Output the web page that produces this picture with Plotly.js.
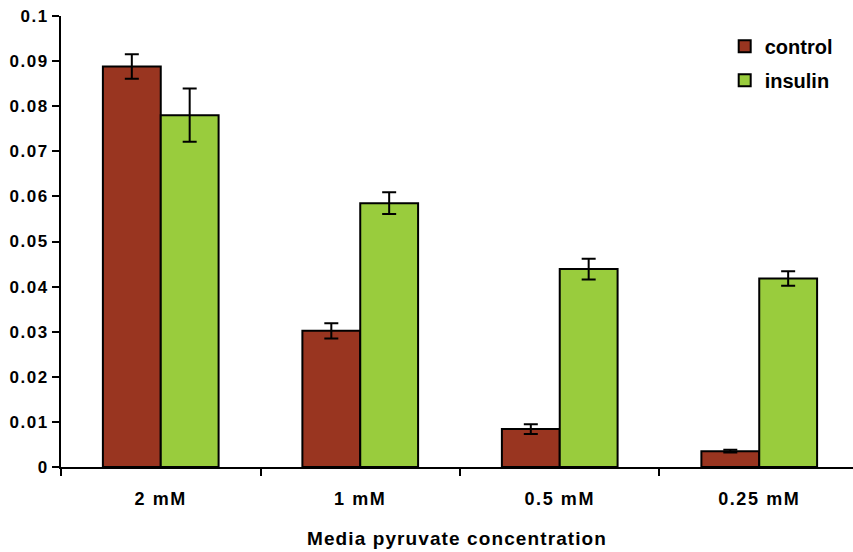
<!DOCTYPE html>
<html>
<head>
<meta charset="utf-8">
<script src="https://cdn.plot.ly/plotly-3.0.1.min.js"></script>
<style>
body{margin:0;padding:0;background:#fff}
#chart{width:853px;height:552px}
#chart .ytick text{letter-spacing:1.5px}
#chart .xtick text{letter-spacing:1.6px}
#chart .xtitle{letter-spacing:1.1px}
</style>
</head>
<body>
<div id="chart"></div>
<script>
const categories = ["2 mM", "1 mM", "0.5 mM", "0.25 mM"];
const controlValues = [0.0888, 0.0302, 0.0084, 0.0035];
const controlErrors = [0.0027, 0.0017, 0.0011, 0.0003];
const insulinValues = [0.0780, 0.0585, 0.0439, 0.0418];
const insulinErrors = [0.0059, 0.0024, 0.0023, 0.0016];
const yTicks = [0, 0.01, 0.02, 0.03, 0.04, 0.05, 0.06, 0.07, 0.08, 0.09, 0.1];
const yTickLabels = ["0", "0.01", "0.02", "0.03", "0.04", "0.05", "0.06", "0.07", "0.08", "0.09", "0.1"];

const fam = "Liberation Sans, Arial, sans-serif";

const traces = [
  {
    type: "bar", name: "control", x: categories, y: controlValues, legendgroup: "c",
    marker: {color: "#993520", line: {color: "#000", width: 2}},
    error_y: {type: "data", array: controlErrors, visible: true, color: "#000", thickness: 2, width: 7}
  },
  {
    type: "bar", name: "insulin", x: categories, y: insulinValues, legendgroup: "i",
    marker: {color: "#99cc3d", line: {color: "#000", width: 2}},
    error_y: {type: "data", array: insulinErrors, visible: true, color: "#000", thickness: 2, width: 7}
  }
];

const layout = {
  width: 853, height: 552,
  margin: {l: 61, r: 0, t: 16, b: 85},
  paper_bgcolor: "#fff", plot_bgcolor: "#fff",
  font: {family: fam, size: 17, color: "#000"},
  barmode: "group",
  bargap: 0.42, bargroupgap: 0,
  showlegend: true,
  legend: {
    x: 0.838, y: 0.976, xanchor: "left", yanchor: "top",
    font: {family: fam, size: 20, color: "#000", weight: "bold"},
    bgcolor: "rgba(0,0,0,0)", tracegroupgap: 5
  },
  xaxis: {
    type: "category",
    range: [-0.5, 3.47],
    tickson: "boundaries",
    ticks: "outside", ticklen: 7, tickwidth: 2, tickcolor: "#000",
    ticklabelstandoff: 14,
    showline: true, linecolor: "#000", linewidth: 2,
    showgrid: false, zeroline: false,
    tickfont: {family: fam, size: 18, color: "#000", weight: "bold"},
    title: {text: "Media pyruvate concentration", standoff: 24,
            font: {family: fam, size: 19, color: "#000", weight: "bold"}},
    fixedrange: true
  },
  yaxis: {
    range: [0, 0.1],
    tickvals: yTicks, ticktext: yTickLabels,
    ticks: "outside", ticklen: 7, tickwidth: 2, tickcolor: "#000",
    showline: true, linecolor: "#000", linewidth: 2,
    showgrid: false, zeroline: false,
    tickfont: {family: fam, size: 17, color: "#000", weight: "bold"},
    fixedrange: true
  }
};

Plotly.newPlot("chart", traces, layout, {displayModeBar: false, staticPlot: true});
</script>
</body>
</html>
